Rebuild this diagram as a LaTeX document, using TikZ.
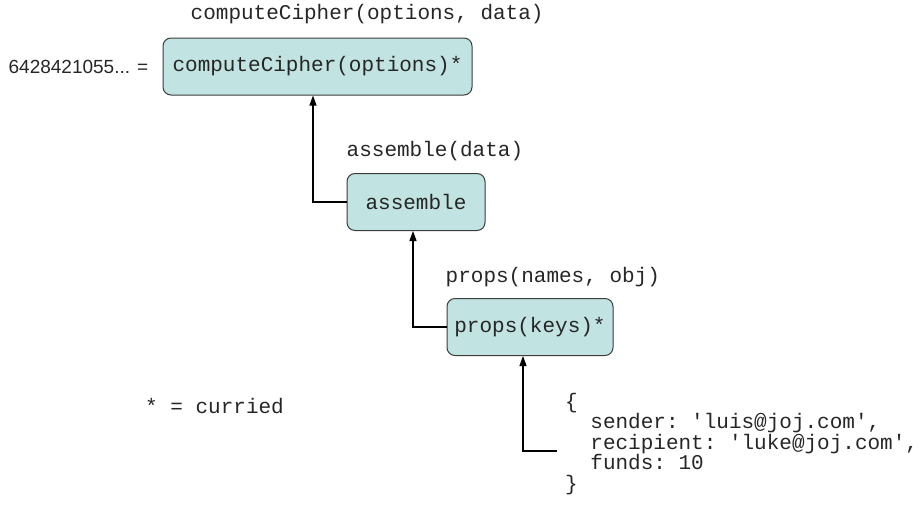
\documentclass[tikz,border=0pt]{standalone}
\usepackage{fontspec}
\setmonofont{Liberation Mono}
\setsansfont{Liberation Sans}
\usepackage{tikz}
\usetikzlibrary{arrows.meta,positioning}
\definecolor{fn-fill}{RGB}{193,227,225}
\definecolor{fn-line}{RGB}{60,60,60}

\begin{document}
\begin{tikzpicture}[x=1pt, y=-1pt, >={Triangle[length=10pt,width=7pt]},
	   font=\ttfamily\fontsize{21}{20.5}\selectfont, text=black!85,
	   fn/.style={draw=fn-line, line width=1pt, fill=fn-fill, rounded corners=8pt, minimum height=57pt, inner sep=0pt},
	   lbl/.style={inner sep=0pt, anchor=base west},
	   link/.style={->, line width=1.2pt}]
	  \useasboundingbox (0,0) rectangle (923,525);
	  \node[fn, minimum width=309pt] (cipher) at (317.5,66.5) {computeCipher(options)*};
	  \node[fn, minimum width=138pt] (asm) at (416,202) {assemble};
	  \node[fn, minimum width=166pt] (props) at (530,327) {props(keys)*};
	  \node[lbl, above right=18pt and 28pt of cipher.north west, anchor=base west] (cipherL) {computeCipher(options, data)};
	  \node[lbl, above right=17pt and 0pt of asm.north west, anchor=base west] (asmL) {assemble(data)};
	  \node[lbl, above right=16pt and -1pt of props.north west, anchor=base west] (propsL) {props(names, obj)};
	  \node[inner sep=0pt, left=14pt of cipher, font=\sffamily\fontsize{19}{22}\selectfont] (result) {6428421055... =};
	  \node[lbl] (curried) at (145,413) {* = curried};
	  \node[inner sep=0pt, inner xsep=8pt, align=left, anchor=north west] (data) at (557,393)
	    {\{\\ \hphantom{xx}sender: 'luis@joj.com',\\ \hphantom{xx}recipient: 'luke@joj.com',\\ \hphantom{xx}funds: 10\\ \}};
	  \draw[link] (asm.west) -| ([xshift=-4.5pt]cipher.south);
	  \draw[link] (props.west) -| ([xshift=-3pt]asm.south);
	  \draw[link] ([yshift=-7pt]data.west) -| ([xshift=-7pt]props.south);
	\end{tikzpicture}
\end{document}
